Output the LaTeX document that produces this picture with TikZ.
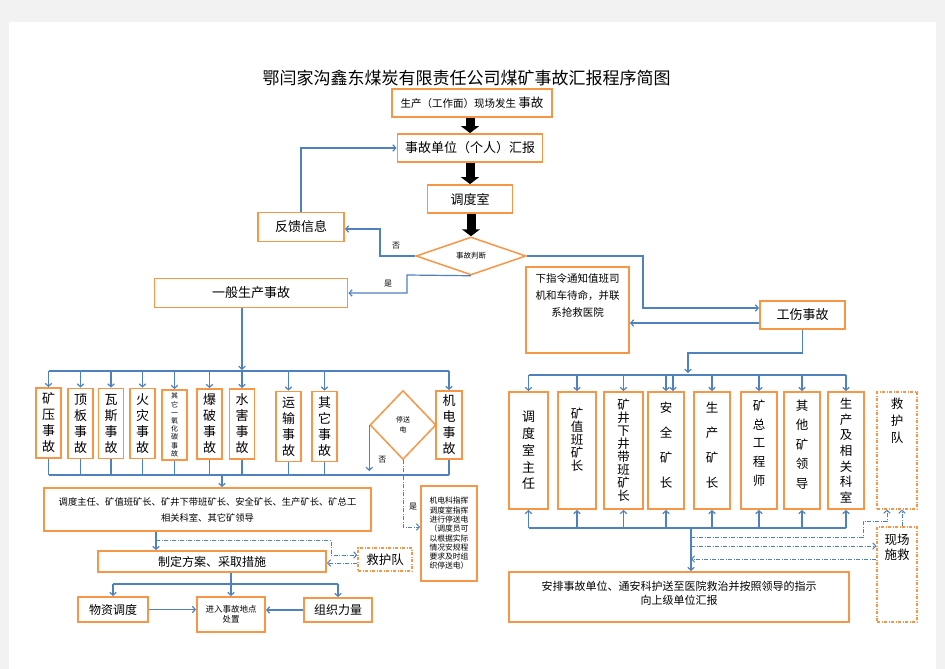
\documentclass[tikz,border=0pt]{standalone}
\usepackage{fontspec}
\setmainfont{Noto Sans CJK SC}
\usetikzlibrary{shapes.geometric, arrows.meta, positioning, calc}
\definecolor{boxorange}{RGB}{247,150,70}
\definecolor{lineblue}{RGB}{79,129,189}
\definecolor{pagegray}{RGB}{242,242,242}
\newcommand{\fs}[2]{\fontsize{#1}{#2}\selectfont}
\newcommand{\pushup}[1]{\\[#1pt]\mbox{}}

\begin{document}
\begin{tikzpicture}[
    x=1pt, y=-1pt,
    wh/.style 2 args={minimum width=#1pt, minimum height=#2pt},
    box/.style={draw=boxorange, line width=1.8pt, fill=white, inner sep=1pt, align=center, font=\fs{13}{16}},
    dbox/.style={box, line width=1.2pt, dash pattern=on 3pt off 1.5pt on 1pt off 1.5pt},
    vbox/.style={box, wh={25}{70}},
    rbox/.style={box, minimum height=117pt},
    judge/.style={diamond, draw=boxorange, line width=1.5pt, fill=white, inner sep=0pt, align=center},
    link/.style={draw=lineblue, line width=1.2pt},
    arr/.style={link, -{Straight Barb[length=3pt,width=6.5pt]}},
    dd/.style={arr, line width=1pt, dash pattern=on 4pt off 1.5pt on 1pt off 1.5pt},
    bigarr/.style={line width=9pt, -{Triangle[length=7pt,width=18pt]}},
    lbl/.style={font=\fs{8}{9}, inner sep=0pt}
]
% page
\fill[pagegray] (0,0) rectangle (945,669);
\fill[white] (9,22) rectangle (936,669);

\node[font=\fs{17}{20}] (title) at (466.5,78) {鄂闫家沟鑫东煤炭有限责任公司煤矿事故汇报程序简图};

% top of the chart
\node[box, wh={160}{28}, font=\fs{10.5}{12}] (occur) at (472,103) {生产（工作面）现场发生 {\fs{12.5}{14}事故}};
\node[box, wh={145}{28}] (report) at (470,148) {事故单位（个人）汇报};
\node[box, wh={85}{28}] (dispatch) at (470,199) {调度室};
\node[judge, wh={110}{38}, font=\fs{7.5}{9}] (judge) at (471,256) {事故判断};
\node[box, wh={86}{29}] (feedback) at (301,227) {反馈信息};
\node[box, wh={193}{29}] (general) at (251,293) {一般生产事故};
\node[box, wh={103}{86}, font=\fs{10.5}{17}] (notice) at (577.5,310) {下指令通知值班司\\机和车待命，并联\\系抢救医院\pushup{13}};
\node[box, wh={85}{28}] (injury) at (802.5,315) {工伤事故};

\coordinate (fb) at (380,229);
\coordinate (jl) at (407,275);
\coordinate (jr) at (643,308);
\coordinate (jb) at (688,353);

\draw[bigarr] (report.north |- occur.south) -- (report.north);
\draw[bigarr] (dispatch.north |- report.south) -- (dispatch.north);
\draw[bigarr] (judge.north |- dispatch.south) -- (judge.north);
\draw[arr] (feedback.north) |- (report.west);
\draw[arr] (judge.west) -| node[lbl, pos=0.7, xshift=16pt] {否} (fb) -- (fb -| feedback.east);
\draw[arr] (judge.south) -- (jl) |- node[lbl, pos=0.25, xshift=-19pt] {是} (general.east);
\draw[arr] (judge.east) -| (jr) -- (jr -| injury.west);
\draw[arr] ([yshift=-8pt]injury.west) -- ([yshift=-8pt]injury.west -| notice.east);

% general accidents
\node[vbox] (k1) at (48.5,423) {矿\\压\\事\\故};
\node[vbox] (k2) at (80.5,423.5) {顶\\板\\事\\故};
\node[vbox] (k3) at (111,423.5) {瓦\\斯\\事\\故};
\node[vbox] (k4) at (142.5,423.5) {火\\灾\\事\\故};
\node[vbox, font=\fs{7}{8.2}] (k5) at (174.5,425) {其\\它\\一\\氧\\化\\碳\\事\\故};
\node[vbox] (k6) at (209.5,424) {爆\\破\\事\\故};
\node[vbox] (k7) at (242,424) {水\\害\\事\\故};
\node[vbox] (k8) at (288.5,426.5) {运\\输\\事\\故};
\node[vbox] (k9) at (324.5,426.5) {其\\它\\事\\故};
\node[judge, wh={66}{69}, font=\fs{7}{10}] (power) at (403,425) {停送\\电};
\node[vbox, wh={26}{68}] (k10) at (449,425) {机\\电\\事\\故};

\coordinate (busA) at (0,371);
\coordinate (busB) at (0,475);
\draw[arr, shorten >=1pt] (general.south -| k7) -- (k7 |- busA);
\draw[link] (k1.north |- busA) -- (k10.north |- busA);
\foreach \k in {k1,k2,k3,k4,k5,k6,k7,k8,k9,k10}
    \draw[arr] (\k.north |- busA) -- (\k.north);
\draw[link] (k1.south |- busB) -- (k10.south |- busB);
\foreach \k in {k1,k2,k3,k4,k5,k6,k7,k8,k9,k10}
    \draw[link] (\k.south) -- (\k.south |- busB);
\draw[arr, shorten >=4pt] (power.west) -- node[lbl, pos=0.7, xshift=13pt] {否} (power.west |- busB);

\node[box, wh={327}{43}, font=\fs{9.3}{16}] (leaders) at (207.5,509.5) {调度主任、矿值班矿长、矿井下带班矿长、安全矿长、生产矿长、矿总工\\相关科室、其它矿领导};
\node[box, wh={56}{95}, font=\fs{7.8}{9.3}, align=left] (elec) at (449,533.5) {机电科指挥\\调度室指挥\\进行停送电\\（调度员可\\以根据实际\\情况安规程\\要求及时组\\织停送电）};
\node[box, wh={228}{21}, font=\fs{12}{14}] (plan) at (212,561.5) {制定方案、采取措施};
\node[dbox, wh={54}{23}, font=\fs{12.5}{14}] (rescueL) at (385,559.5) {救护队};
\node[box, wh={70}{25}, font=\fs{12}{14}] (supply) at (113,609.5) {物资调度};
\node[box, wh={68}{24}, font=\fs{12}{14}] (force) at (338,610) {组织力量};
\node[box, wh={68}{35}, font=\fs{8.5}{10}] (entry) at (231,614.5) {进入事故地点\\处置};

\draw[dd] (power.south) |- node[lbl, pos=0.35, xshift=10pt] {是} ([yshift=6.5pt]elec.west);
\coordinate (c1) at ($(leaders.north)+(14.5,0)$);
\draw[arr] (c1 |- busB) -- (c1);
\coordinate (c3) at ($(leaders.south)+(-51.5,0)$);
\draw[arr] (c3) -- (c3 |- plan.north);
\coordinate (c4) at ($(c3)+(0,9)$);
\coordinate (c5) at ($(rescueL.west)+(-26,-4.5)$);
\draw[dd] (c4) -| (c5) -- (c5 -| rescueL.west);
\coordinate (c6) at ($(rescueL.west)+(0,3.5)$);
\draw[dd] (c6) -- (c6 -| plan.east);

\coordinate (busE) at (0,584);
\draw[arr] (plan.south -| entry.north) -- (entry.north);
\draw[link] (supply.north |- busE) -- (force.north |- busE);
\draw[arr] (supply.north |- busE) -- (supply.north);
\draw[arr] (force.north |- busE) -- (force.north);
\draw[arr] (supply.east) -- (supply.east -| entry.west);
\draw[arr] (force.west) -- (force.west -| entry.east);

% injury accidents
\node[rbox, minimum width=39pt, font=\fs{13}{16.7}] (r1) at (528.5,450.5) {调\\度\\室\\主\\任};
\node[rbox, minimum width=38pt, font=\fs{12.5}{13}] (r2) at (577,450.5) {矿\\值\\班\\矿\\长\pushup{10}};
\node[rbox, minimum width=39pt, font=\fs{12.5}{13}] (r3) at (623.5,450.5) {矿\\井\\下\\井\\带\\班\\矿\\长};
\node[rbox, minimum width=36pt, font=\fs{12.5}{25}] (r4) at (666,450.5) {安\\全\\矿\\长\pushup{-13}};
\node[rbox, minimum width=36pt, font=\fs{12.5}{25}] (r5) at (712,450.5) {生\\产\\矿\\长\pushup{-14}};
\node[rbox, minimum width=36pt, font=\fs{12.5}{18.75}] (r6) at (759,450.5) {矿\\总\\工\\程\\师\pushup{-3}};
\node[rbox, minimum width=36pt, font=\fs{12.5}{19.5}] (r7) at (802,450.5) {其\\他\\矿\\领\\导\pushup{-6.5}};
\node[rbox, minimum width=36pt, font=\fs{12.5}{15.7}] (r8) at (846,450.5) {生\\产\\及\\相\\关\\科\\室};
\node[dbox, wh={40}{117}, font=\fs{12.5}{17}] (r9) at (897,450.5) {救\\护\\队\pushup{43}};

\node[box, wh={340}{50}, font=\fs{11}{14}] (arrange) at (679,597) {安排事故单位、通安科护送至医院救治并按照领导的指示\\向上级单位汇报\pushup{-6}};
\node[dbox, wh={40}{95}, font=\fs{12.5}{15}] (site) at (897,574.5) {现场\\施救\pushup{41}};

\coordinate (busC) at (0,375);
\coordinate (busD) at (0,528);
\draw[arr, shorten >=2pt] (injury.south) |- (jb) -- (jb |- busC);
\draw[link] (r1.north |- busC) -- (r8.north |- busC);
\foreach \r in {r1,r2,r3,r4,r5,r6,r7,r8}
    \draw[arr] (\r.north |- busC) -- (\r.north);
\draw[arr] ($(r4.north |- busC)+(7,0)$) -- ($(r4.north)+(7,0)$);
\draw[link] (r1.south |- busD) -- (r8.south |- busD);
\foreach \r in {r1,r2,r3,r4,r5,r6,r7,r8}
    \draw[arr] (\r.south |- busD) -- (\r.south);

\coordinate (c2) at ($(arrange.north)+(12,0)$);
\coordinate (d0) at (691,537);
\coordinate (d1) at (863,521);
\coordinate (e1) at (691,546);
\coordinate (e2) at (691,559);
\draw[arr] (c2 |- busD) -- (c2);
\draw[dd] (d0) -| (d1) -| ([xshift=-10pt]r9.south);
\draw[dd] (e1) -- (e1 -| site.west);
\draw[dd] (e2 -| site.west) -- (e2);
\draw[dd] ([xshift=5pt]site.north) -- ([xshift=5pt]r9.south);
\end{tikzpicture}
\end{document}
